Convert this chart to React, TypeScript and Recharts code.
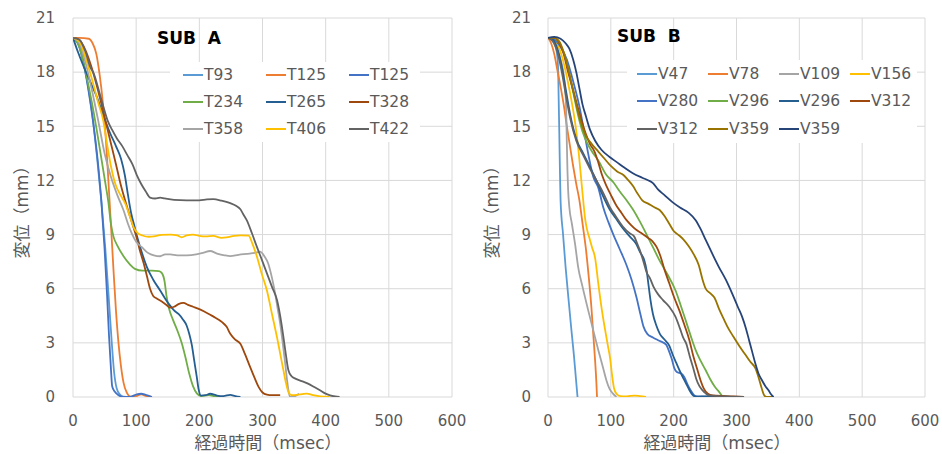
import React from "react";
import { LineChart, Line, XAxis, YAxis, CartesianGrid, Legend, Customized } from "recharts";

// time (msec) / displacement (mm) pairs
const T93 = [[0,19.9],[8,19.6],[15,18.8],[22,17.6],[30,15.8],[38,13.3],[45,10.8],[51,8.3],[56,5.8],[61,3.2],[65,1.4],[69,0.5],[74,0.15],[80,0.02],[93,0]];
const T125a = [[0,19.9],[10,19.9],[25,19.85],[31,19.6],[37,19.0],[42,17.9],[47,16.4],[52,14.3],[56,12],[60,9.6],[64,7.1],[68,4.8],[72,3.0],[76,1.7],[80,0.8],[85,0.25],[91,0.02],[100,0.05],[108,0.15],[115,0.06],[125,0]];
const T125b = [[0,19.9],[8,19.6],[16,18.6],[24,17.1],[32,15.2],[40,12.8],[45,10.8],[50,8.2],[54,5.6],[57,3.4],[60,1.6],[62,0.6],[66,0.3],[72,0.1],[80,0],[92,0.02],[101,0.15],[108,0.18],[115,0.12],[125,0]];
const T234 = [[0,19.9],[10,19.4],[20,18.0],[30,16.3],[38,14.7],[45,13.2],[51,11.9],[56,10.8],[60,9.6],[64,8.9],[70,8.4],[80,7.8],[90,7.35],[98,7.1],[110,7.0],[125,7.0],[136,6.98],[141,6.85],[145,6.4],[148,5.6],[152,4.9],[158,4.3],[165,3.7],[172,3.0],[178,2.2],[184,1.3],[190,0.6],[196,0.2],[203,0.05],[215,0.1],[225,0.04],[234,0]];
const T265 = [[0,19.9],[8,19.1],[17,18.3],[27,17.5],[38,16.6],[48,15.6],[59,14.6],[68,13.9],[76,13.2],[82,12.3],[87,11.2],[92,10.2],[97,9.5],[101,8.95],[109,8.0],[117,7.2],[127,6.5],[138,5.9],[146,5.45],[154,5.05],[160,4.8],[167,4.6],[174,4.3],[180,3.95],[184,3.5],[188,2.9],[192,2.0],[196,1.1],[199,0.4],[202,0.08],[210,0.1],[217,0.18],[228,0.08],[238,0.05],[249,0.12],[257,0.05],[265,0]];
const T328 = [[0,19.9],[10,19.8],[20,19.2],[30,18.2],[38,17.2],[48,15.8],[59,14.2],[68,12.9],[76,11.7],[85,10.6],[93,9.7],[101,8.8],[106,8.1],[112,7.4],[117,6.7],[122,6.0],[127,5.6],[133,5.45],[140,5.3],[148,5.1],[154,4.95],[160,5.0],[167,5.15],[175,5.21],[182,5.1],[190,5.0],[198,4.9],[207,4.75],[215,4.6],[223,4.44],[230,4.3],[236,4.15],[243,3.9],[249,3.5],[256,3.2],[265,2.95],[272,2.4],[280,1.7],[287,1.1],[294,0.55],[300,0.25],[307,0.13],[315,0.1],[328,0.1]];
const T358 = [[0,19.9],[10,19.6],[20,18.5],[30,17],[40,15.3],[50,13.5],[60,12.2],[70,11.2],[80,10.35],[87,9.6],[93,9.06],[100,8.6],[109,8.3],[118,8.0],[128,7.85],[138,7.8],[146,7.9],[154,7.9],[165,7.85],[180,7.85],[195,7.9],[207,8.0],[217,8.09],[228,7.95],[240,7.85],[249,7.81],[262,7.88],[275,7.93],[288,7.98],[296,8.05],[303,7.8],[309,7.4],[315,6.6],[320,5.74],[324,4.9],[328,4.07],[332,3.0],[336,1.85],[339,0.9],[341,0.37],[344,0],[351,0.04],[358,0.18]];
const T406 = [[0,19.9],[10,19.7],[20,18.8],[30,17.6],[40,16.3],[48,15.3],[54,14],[60,12.8],[67,11.8],[75,11.2],[83,10.7],[90,10],[96,9.4],[102,9.1],[110,8.95],[120,8.88],[128,8.9],[140,8.98],[154,9.0],[165,8.95],[172,8.85],[180,8.95],[190,9.0],[200,8.93],[210,8.9],[222,8.93],[235,8.82],[243,8.84],[255,8.93],[265,8.96],[278,8.94],[284,8.5],[291,7.8],[299,6.8],[307,5.9],[315,4.6],[323,3.3],[328,2.4],[333,1.5],[337,0.8],[341,0.28],[346,0.1],[355,0.12],[363,0.16],[370,0.19],[380,0.1],[391,0.04],[406,0]];
const T422 = [[0,19.9],[10,19.8],[20,19.1],[27,18.3],[33,17.9],[40,17.1],[48,16.1],[55,15.3],[62,14.8],[70,14.3],[78,13.9],[86,13.4],[94,12.9],[101,12.3],[108,11.8],[115,11.4],[122,11.05],[130,11.0],[138,11.05],[145,11.0],[160,10.92],[180,10.9],[200,10.9],[212,10.95],[222,10.96],[235,10.88],[249,10.74],[258,10.6],[265,10.4],[270,10.1],[275,9.8],[283,9.1],[291,8.33],[299,7.6],[307,6.85],[315,6.1],[323,5.37],[330,4.07],[336,2.6],[341,1.48],[346,1.15],[352,1.02],[362,0.88],[372,0.74],[382,0.55],[391,0.37],[399,0.2],[407,0.09],[415,0.03],[422,0]];

const V47 = [[0,19.9],[5,19.8],[10,19.6],[14,19.1],[16,18.3],[17,16.5],[18,14.6],[19,12.5],[20,10.9],[24,9],[28,7.2],[33,5.3],[37,3.8],[41,2.4],[44,1.2],[47,0]];
const V78 = [[0,19.9],[5,19.6],[10,19],[15,18.1],[20,17.2],[25,16.2],[30,15],[35,13.9],[40,12.8],[45,11.8],[50,10.9],[55,9.6],[60,8.3],[65,6.6],[69,5],[72,3.5],[75,2],[77,0.8],[78,0]];
const V109 = [[0,19.9],[8,19.7],[15,19.2],[20,18.7],[24,18.1],[27,17.2],[29,15.8],[30,14],[31,12.5],[32,11.5],[34,10.5],[38,9.6],[43,8.5],[48,7.2],[55,6.1],[64,4.8],[72,3.7],[80,2.6],[87,1.7],[93,0.92],[98,0.45],[103,0.2],[109,0]];
const V156 = [[0,19.9],[10,19.8],[18,19.3],[25,18.5],[32,17.4],[38,16.3],[44,15],[49,13.5],[53,12],[56,10.9],[59,9.9],[62,9.3],[66,8.8],[70,8.3],[75,7.7],[80,6.3],[85,5],[90,3.9],[95,2.9],[99,2.1],[102,1.2],[105,0.5],[109,0.18],[115,0.05],[125,0.04],[138,0.08],[146,0.05],[156,0]];
const V280 = [[0,19.9],[10,19.8],[20,19.4],[30,18.7],[40,17.5],[50,16.1],[58,14.6],[65,13.3],[72,12.2],[80,11.6],[88,10.5],[96,9.7],[104,9.0],[114,8.2],[125,7.3],[133,6.5],[141,5.5],[147,4.6],[152,3.9],[158,3.5],[167,3.3],[178,3.1],[188,2.9],[193,2.5],[197,2.1],[201,1.6],[205,1.38],[212,1.3],[217,1.1],[222,0.7],[227,0.37],[232,0.12],[237,0.03],[250,0.02],[265,0.05],[280,0]];
const V296a = [[0,19.9],[10,19.9],[18,19.6],[25,19.1],[32,18.2],[40,16.9],[48,15.6],[55,14.7],[62,14.1],[70,13.6],[80,13.1],[93,12.3],[104,11.9],[114,11.4],[125,10.9],[135,10.4],[145,9.8],[156,9.07],[167,8.3],[177,7.6],[190,6.8],[203,5.9],[211,5.1],[219,4.26],[227,3.4],[235,2.6],[243,2.0],[251,1.48],[258,1.0],[265,0.6],[272,0.3],[279,0.03],[287,0.02],[296,0]];
const V296b = [[0,19.9],[8,19.8],[15,19.3],[22,18.3],[28,17.1],[35,15.7],[45,14.3],[56,13.5],[66,12.8],[77,12.0],[88,11.1],[98,10.4],[108,9.9],[119,9.35],[130,8.9],[140,8.5],[147,8.0],[153,7.6],[157,7.0],[160,6.2],[163,5.4],[167,4.6],[172,4.0],[178,3.5],[185,3.2],[193,2.85],[199,2.3],[204,1.9],[209,1.5],[214,1.13],[219,0.8],[225,0.39],[230,0.12],[236,0.02],[250,0.04],[265,0.05],[280,0.03],[296,0]];
const V312a = [[0,19.9],[10,19.9],[18,19.6],[25,19],[32,18],[40,17],[51,15.6],[60,14.6],[67,14.0],[74,13.6],[80,13.0],[86,12.3],[93,11.7],[100,11.2],[109,10.6],[117,10.2],[125,9.8],[133,9.5],[141,9.25],[150,9.05],[160,8.8],[167,8.6],[173,8.3],[179,7.8],[185,7.1],[193,6.3],[201,5.5],[209,4.8],[217,4.0],[225,3.15],[231,2.3],[238,1.48],[243,0.9],[248,0.46],[254,0.2],[262,0.09],[280,0.05],[295,0.03],[312,0]];
const V312b = [[0,19.9],[8,19.7],[15,19.1],[22,18],[28,16.8],[35,15.5],[45,14.2],[56,13.4],[66,12.7],[77,12.0],[88,11.3],[98,10.55],[108,10.0],[119,9.45],[130,9.07],[137,8.9],[142,8.5],[146,8.15],[152,7.5],[157,6.9],[162,6.6],[168,6.1],[175,5.7],[183,5.37],[193,5.0],[203,4.44],[210,3.8],[215,3.3],[220,2.96],[226,2.2],[232,1.5],[236,1.0],[241,0.6],[246,0.37],[251,0.2],[256,0.09],[270,0.05],[290,0.02],[312,0]];
const V359a = [[0,19.9],[10,19.9],[18,19.7],[25,19.1],[32,18.2],[40,17],[50,15.5],[60,14.5],[70,14.0],[80,13.6],[90,13.2],[100,12.8],[110,12.5],[120,12.3],[128,12.0],[135,11.7],[142,11.3],[150,10.9],[160,10.7],[170,10.5],[178,10.35],[186,10.0],[193,9.6],[200,9.2],[207,9.0],[215,8.75],[224,8.35],[232,7.9],[240,7.3],[246,6.5],[251,6.0],[258,5.75],[265,5.5],[272,4.9],[280,4.3],[287,3.8],[295,3.35],[305,2.8],[314,2.35],[322,1.95],[330,1.6],[335,1.1],[340,0.5],[344,0.1],[348,0],[359,0]];
const V359b = [[0,19.9],[10,19.95],[20,19.85],[28,19.6],[34,19.3],[40,18.7],[45,18],[50,17.1],[55,16.2],[60,15.6],[67,14.8],[75,14.2],[85,13.7],[98,13.3],[110,13.0],[122,12.7],[135,12.4],[150,12.15],[160,12.0],[167,11.85],[175,11.5],[185,11.2],[198,10.8],[210,10.5],[224,10.2],[235,9.8],[243,9.3],[251,8.7],[262,7.9],[272,7.2],[283,6.5],[293,5.74],[302,5.0],[309,4.44],[315,3.8],[320,3.15],[325,2.5],[330,1.85],[335,1.3],[341,0.9],[346,0.6],[351,0.37],[355,0.15],[359,0]];

const X_TICKS = [0, 100, 200, 300, 400, 500, 600];
const Y_TICKS = [0, 3, 6, 9, 12, 15, 18, 21];

const FONT = '"DejaVu Sans", "Noto Sans CJK JP", sans-serif';
const TEXT = "#595959";

const toPts = (a: number[][]) => a.map(([t, v]) => ({ t, v }));

const seriesA = [
  { name: "T93", data: T93, color: "#5B9BD5" },
  { name: "T125", data: T125a, color: "#ED7D31" },
  { name: "T125", data: T125b, color: "#4472C4" },
  { name: "T234", data: T234, color: "#70AD47" },
  { name: "T265", data: T265, color: "#255E91" },
  { name: "T328", data: T328, color: "#9E480E" },
  { name: "T358", data: T358, color: "#A5A5A5" },
  { name: "T406", data: T406, color: "#FFC000" },
  { name: "T422", data: T422, color: "#636363" },
];

const seriesB = [
  { name: "V47", data: V47, color: "#5B9BD5" },
  { name: "V78", data: V78, color: "#ED7D31" },
  { name: "V109", data: V109, color: "#A5A5A5" },
  { name: "V156", data: V156, color: "#FFC000" },
  { name: "V280", data: V280, color: "#4472C4" },
  { name: "V296", data: V296a, color: "#70AD47" },
  { name: "V296", data: V296b, color: "#255E91" },
  { name: "V312", data: V312a, color: "#9E480E" },
  { name: "V312", data: V312b, color: "#636363" },
  { name: "V359", data: V359a, color: "#997300" },
  { name: "V359", data: V359b, color: "#264478" },
];

type Series = { name: string; data: number[][]; color: string };

function LegendGrid({ series, cols, colW, rowH, padLeft }: { series: Series[]; cols: number; colW: number; rowH: number; padLeft: number }) {
  return (
    <div
      style={{
        background: "#fff",
        paddingLeft: padLeft,
        display: "grid",
        gridTemplateColumns: `repeat(${cols}, ${colW}px)`,
        gridAutoRows: rowH,
        fontFamily: FONT,
        fontSize: 15.5,
        color: TEXT,
      }}
    >
      {series.map((s, i) => (
        <div key={i} style={{ display: "flex", alignItems: "center", whiteSpace: "nowrap" }}>
          <span style={{ display: "inline-block", width: 20, borderTop: `2px solid ${s.color}`, marginRight: 1 }} />
          {s.name}
        </div>
      ))}
    </div>
  );
}

type PanelProps = {
  title: string;
  series: Series[];
  yAxisWidth: number;
  marginRight: number;
  tickGap: number;
  titleX: number;
  titleY: number;
  xTitleX: number;
  legend: { left: number; top: number; width: number; height: number; cols: number; colW: number; rowH: number; padLeft: number };
};

function Panel(p: PanelProps) {
  const lg = p.legend;
  return (
    <LineChart width={p.width ?? 470} height={454} margin={{ top: 18, right: p.marginRight, bottom: 0, left: 0 }}>
      <CartesianGrid stroke="#D9D9D9" strokeWidth={1} />
      <XAxis
        dataKey="t"
        type="number"
        domain={[0, 600]}
        ticks={X_TICKS}
        allowDataOverflow
        axisLine={false}
        tickLine={false}
        height={57}
        tickMargin={12}
        tick={{ fill: TEXT, fontSize: 15, fontFamily: FONT }}
      />
      <YAxis
        dataKey="v"
        type="number"
        domain={[0, 21]}
        ticks={Y_TICKS}
        allowDataOverflow
        axisLine={false}
        tickLine={false}
        width={p.yAxisWidth}
        tickMargin={p.tickGap}
        tick={{ fill: TEXT, fontSize: 15, fontFamily: FONT }}
      />
      {p.series.map((s, i) => (
        <Line
          key={s.name + i}
          data={toPts(s.data)}
          dataKey="v"
          name={s.name}
          type="monotone"
          stroke={s.color}
          strokeWidth={1.8}
          dot={false}
          activeDot={false}
          isAnimationActive={false}
        />
      ))}
      <Legend
        layout="horizontal"
        verticalAlign="middle"
        align="center"
        wrapperStyle={{ left: lg.left, top: lg.top, width: lg.width, height: lg.height }}
        content={() => <LegendGrid series={p.series} cols={lg.cols} colW={lg.colW} rowH={lg.rowH} padLeft={lg.padLeft} />}
      />
      <Customized
        component={() => (
          <g fontFamily={FONT}>
            <text x={p.titleX} y={p.titleY} fontSize={17} fontWeight="bold" fill="#000">
              {p.title}
            </text>
            <text x={p.xTitleX} y={443} fontSize={17} fill={TEXT} textAnchor="middle" dominantBaseline="central">
              経過時間（msec）
            </text>
            <text
              x={22}
              y={208}
              fontSize={17}
              fill={TEXT}
              textAnchor="middle"
              dominantBaseline="central"
              transform="rotate(-90 22 208)"
            >
              変位（mm）
            </text>
          </g>
        )}
      />
    </LineChart>
  );
}

export default function App() {
  return (
    <div style={{ position: "absolute", left: 0, top: 0, width: 942, height: 454, background: "#fff", display: "flex" }}>
      <Panel
        title={"SUB\u00A0\u00A0A"}
        series={seriesA}
        yAxisWidth={73}
        marginRight={18}
        tickGap={12}
        titleX={157}
        titleY={44}
        xTitleX={268}
        legend={{ left: 170, top: 62, width: 250, height: 80, cols: 3, colW: 83, rowH: 26.7, padLeft: 13 }}
      />
      <Panel
        title={"SUB\u00A0\u00A0B"}
        series={seriesB}
        yAxisWidth={78}
        marginRight={15}
        tickGap={11}
        titleX={147}
        titleY={42}
        xTitleX={247}
        legend={{ left: 157, top: 60, width: 290, height: 82, cols: 4, colW: 71, rowH: 27.5, padLeft: 10 }}
      />
    </div>
  );
}
